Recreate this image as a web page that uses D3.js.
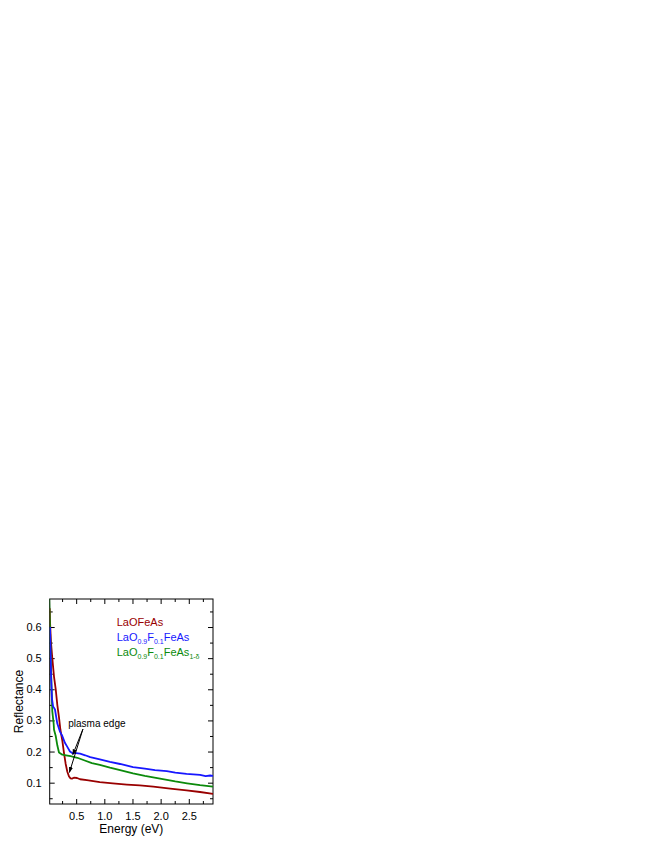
<!DOCTYPE html>
<html>
<head>
<meta charset="utf-8">
<script src="https://cdn.jsdelivr.net/npm/d3@7"></script>
<style>
  body { margin: 0; background: #fff; }
  svg { display: block; font-family: "Liberation Sans", Arial, sans-serif; }
</style>
</head>
<body>
<div id="chart"></div>
<script>
// values
const redE = [0.03, 0.035, 0.053, 0.076, 0.107, 0.137, 0.165, 0.195, 0.22, 0.254, 0.284, 0.314, 0.343, 0.373, 0.40, 0.426, 0.46, 0.515, 0.57, 0.69, 0.92, 1.15, 1.40, 1.63, 1.87, 2.17, 2.46, 2.70, 2.93];
const redR = [0.66, 0.62, 0.55, 0.50, 0.44, 0.40, 0.35, 0.31, 0.27, 0.235, 0.195, 0.16, 0.135, 0.12, 0.114, 0.113, 0.116, 0.115, 0.111, 0.108, 0.102, 0.098, 0.094, 0.091, 0.087, 0.081, 0.075, 0.070, 0.064];

const blueE = [0.035, 0.053, 0.07, 0.09, 0.124, 0.165, 0.21, 0.254, 0.30, 0.343, 0.39, 0.43, 0.50, 0.57, 0.66, 0.75, 0.92, 1.10, 1.28, 1.51, 1.72, 1.90, 2.11, 2.26, 2.46, 2.70, 2.80, 2.88, 2.93];
const blueR = [0.60, 0.45, 0.37, 0.345, 0.335, 0.29, 0.265, 0.25, 0.228, 0.215, 0.20, 0.195, 0.195, 0.193, 0.188, 0.182, 0.175, 0.167, 0.16, 0.15, 0.145, 0.14, 0.137, 0.132, 0.128, 0.125, 0.121, 0.123, 0.122];

const greenE = [0.02, 0.035, 0.048, 0.06, 0.076, 0.10, 0.107, 0.137, 0.165, 0.195, 0.254, 0.32, 0.40, 0.52, 0.64, 0.78, 0.92, 1.10, 1.28, 1.51, 1.72, 1.99, 2.26, 2.47, 2.70, 2.93];
const greenR = [0.70, 0.60, 0.50, 0.42, 0.33, 0.29, 0.27, 0.25, 0.22, 0.197, 0.19, 0.188, 0.185, 0.18, 0.172, 0.163, 0.157, 0.148, 0.14, 0.13, 0.122, 0.113, 0.104, 0.098, 0.092, 0.087];

const xTicks = [0.5, 1.0, 1.5, 2.0, 2.5];
const xMinor = [0.25, 0.75, 1.25, 1.75, 2.25, 2.75];
const yTicks = [0.1, 0.2, 0.3, 0.4, 0.5, 0.6];
const yMinor = [0.05, 0.15, 0.25, 0.35, 0.45, 0.55, 0.65];

const width = 654, height = 846;
const margin = { left: 49.7, top: 599, right: 654 - 213, bottom: 846 - 804 };
const innerW = width - margin.left - margin.right;
const innerH = height - margin.top - margin.bottom;

const x = d3.scaleLinear().domain([0.03, 2.93]).range([0, innerW]);
const y = d3.scaleLinear().domain([0.0315, 0.69]).range([innerH, 0]);

const svg = d3.select('#chart').append('svg')
    .attr('width', width)
    .attr('height', height);

svg.append('rect').attr('width', width).attr('height', height).attr('fill', '#fff');

const defs = svg.append('defs');
defs.append('clipPath').attr('id', 'clip')
  .append('rect').attr('x', margin.left).attr('y', margin.top).attr('width', innerW).attr('height', innerH);
defs.append('marker').attr('id', 'arrow')
    .attr('viewBox', '0 0 10 10').attr('refX', 9).attr('refY', 5)
    .attr('markerWidth', 6).attr('markerHeight', 6).attr('orient', 'auto')
  .append('path').attr('d', 'M0,1.5 L10,5 L0,8.5 Z').attr('fill', '#000');

const g = svg.append('g').attr('transform', `translate(${margin.left},${margin.top})`);

// axes, ticks inward on all four sides
const major = 5, minor = 3;
g.append('g').attr('transform', `translate(0,${innerH})`)
    .call(d3.axisBottom(x).tickValues(xTicks).tickSize(-major).tickPadding(8).tickFormat(d3.format('.1f')));
g.append('g').attr('transform', `translate(0,${innerH})`)
    .call(d3.axisBottom(x).tickValues(xMinor).tickSize(-minor).tickFormat(''));
g.append('g').call(d3.axisTop(x).tickValues(xTicks).tickSize(-major).tickFormat(''));
g.append('g').call(d3.axisTop(x).tickValues(xMinor).tickSize(-minor).tickFormat(''));

g.append('g').call(d3.axisLeft(y).tickValues(yTicks).tickSize(-major).tickPadding(8).tickFormat(d3.format('.1f')));
g.append('g').call(d3.axisLeft(y).tickValues(yMinor).tickSize(-minor).tickFormat(''));
g.append('g').attr('transform', `translate(${innerW},0)`)
    .call(d3.axisRight(y).tickValues(yTicks).tickSize(-major).tickFormat(''));
g.append('g').attr('transform', `translate(${innerW},0)`)
    .call(d3.axisRight(y).tickValues(yMinor).tickSize(-minor).tickFormat(''));

g.selectAll('.domain').remove();
g.selectAll('.tick line').attr('stroke', '#000').attr('stroke-width', 1);
g.selectAll('.tick text').attr('font-size', 11).attr('fill', '#000')
    .attr('font-family', '"Liberation Sans", Arial, sans-serif');

g.append('rect')
    .attr('width', innerW).attr('height', innerH)
    .attr('fill', 'none').attr('stroke', '#000').attr('stroke-width', 1);

// curves
const series = [
  { e: redE, r: redR, color: '#990000' },
  { e: greenE, r: greenR, color: '#0b8a0b' },
  { e: blueE, r: blueR, color: '#1717ff' }
];
const line = d3.line().x(d => x(d[0]) + margin.left).y(d => y(d[1]) + margin.top);
const curves = svg.append('g').attr('clip-path', 'url(#clip)');
series.forEach(s => {
  curves.append('path')
    .datum(d3.zip(s.e, s.r))
    .attr('d', line)
    .attr('fill', 'none')
    .attr('stroke', s.color)
    .attr('stroke-width', 1.8)
    .attr('stroke-linejoin', 'round');
});

// legend (second entry of each part marks a subscript)
const legend = [
  { color: '#990000', parts: [['LaOFeAs', 0]] },
  { color: '#1717ff', parts: [['LaO', 0], ['0.9', 1], ['F', 0], ['0.1', 1], ['FeAs', 0]] },
  { color: '#0b8a0b', parts: [['LaO', 0], ['0.9', 1], ['F', 0], ['0.1', 1], ['FeAs', 0], ['1-δ', 1]] }
];
legend.forEach((item, i) => {
  const t = svg.append('text')
    .attr('x', 116.7)
    .attr('y', 626 + i * 15)
    .attr('font-size', 11)
    .attr('fill', item.color);
  let prevSub = 0;
  item.parts.forEach(([txt, sub]) => {
    let dy = 0;
    if (sub && !prevSub) dy = 3;
    if (!sub && prevSub) dy = -3;
    t.append('tspan')
      .attr('font-size', sub ? 7 : 11)
      .attr('dy', dy)
      .text(txt);
    prevSub = sub;
  });
});

// annotation
const annot = svg.append('g').attr('transform', `translate(${margin.left},${margin.top})`);
annot.append('text')
    .attr('x', x(0.36)).attr('y', y(0.28))
    .attr('font-size', 10).attr('fill', '#000')
    .text('plasma edge');
[[0.44, 0.19], [0.38, 0.133]].forEach(([e, r]) => {
  annot.append('line')
    .attr('x1', x(0.62)).attr('y1', y(0.272))
    .attr('x2', x(e)).attr('y2', y(r))
    .attr('stroke', '#000').attr('stroke-width', 1)
    .attr('marker-end', 'url(#arrow)');
});

// axis titles
svg.append('text')
    .attr('x', margin.left + innerW / 2).attr('y', 833)
    .attr('text-anchor', 'middle').attr('font-size', 12)
    .text('Energy (eV)');
svg.append('text')
    .attr('transform', `translate(23,${margin.top + innerH / 2}) rotate(-90)`)
    .attr('text-anchor', 'middle').attr('font-size', 12)
    .text('Reflectance');
</script>
</body>
</html>
